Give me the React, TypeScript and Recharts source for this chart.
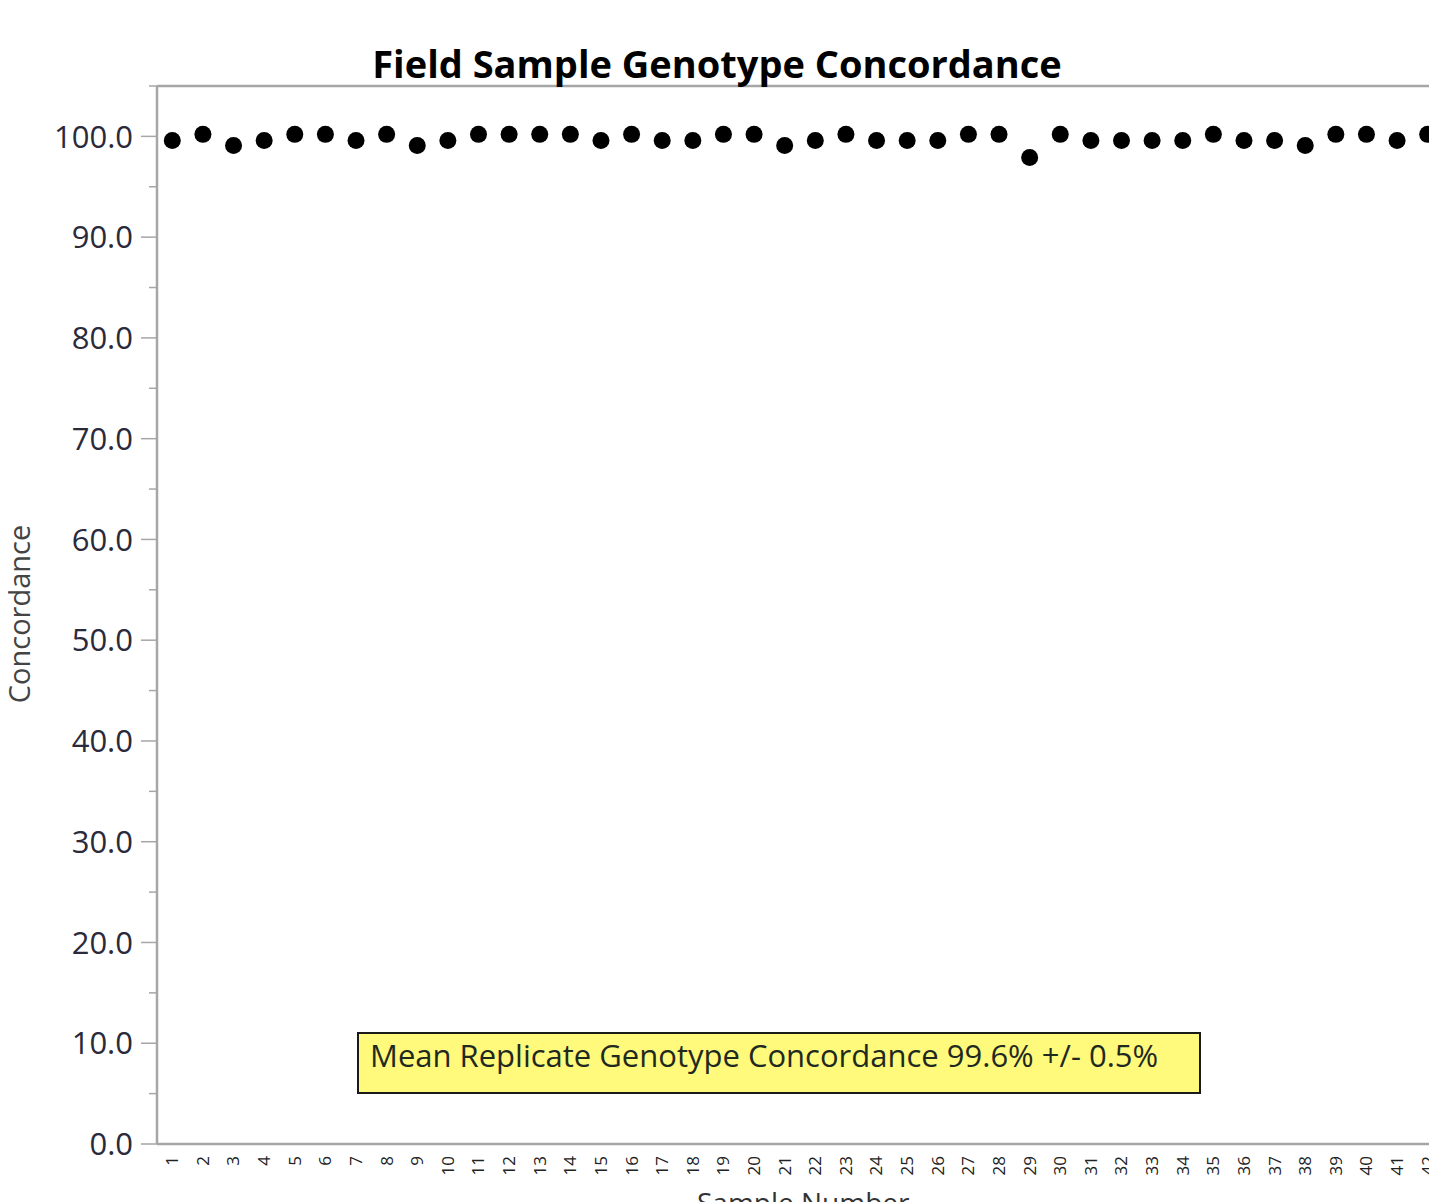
import React from "react";
import { ComposedChart, Scatter, XAxis, YAxis, ReferenceLine } from "recharts";

const sampleLabels = [
  "1", "2", "3", "4", "5", "6", "7", "8", "9", "10",
  "11", "12", "13", "14", "15", "16", "17", "18", "19", "20",
  "21", "22", "23", "24", "25", "26", "27", "28", "29", "30",
  "31", "32", "33", "34", "35", "36", "37", "38", "39", "40",
  "41", "42",
];

const concordance = [
  99.6, 100.2, 99.1, 99.6, 100.2, 100.2, 99.6, 100.2, 99.1, 99.6,
  100.2, 100.2, 100.2, 100.2, 99.6, 100.2, 99.6, 99.6, 100.2, 100.2,
  99.1, 99.6, 100.2, 99.6, 99.6, 99.6, 100.2, 100.2, 97.9, 100.2,
  99.6, 99.6, 99.6, 99.6, 100.2, 99.6, 99.6, 99.1, 100.2, 100.2,
  99.6, 100.2,
];

const yTicks = [0, 5, 10, 15, 20, 25, 30, 35, 40, 45, 50, 55, 60, 65, 70, 75, 80, 85, 90, 95, 100, 105];

const titleText = "Field Sample Genotype Concordance";
const yTitle = "Concordance";
const xTitle = "Sample Number";
const noteText = "Mean Replicate Genotype Concordance 99.6% +/- 0.5%";

const data = sampleLabels.map((s, i) => ({ sample: s, value: concordance[i] }));

const FONT = "'Open Sans', 'Noto Sans', 'DejaVu Sans', sans-serif";
const AXIS_X = 149;
const AXIS_COLOR = "#a6a6a6";
const HALF_BAND = 15.3;

const YTick = (props: any) => {
  const { y, payload } = props;
  const v = payload.value as number;
  const major = v % 10 === 0 && v <= 100;
  const len = major ? 16 : 8;
  return (
    <g>
      <line x1={AXIS_X - len} x2={AXIS_X} y1={y} y2={y} stroke={AXIS_COLOR} strokeWidth={1.5} />
      {major && (
        <text
          x={AXIS_X - 24}
          y={y}
          dy="0.36em"
          textAnchor="end"
          fontFamily={FONT}
          fontSize={31}
          fill="#2a2a3a"
        >
          {v.toFixed(1)}
        </text>
      )}
    </g>
  );
};

const XTick = (props: any) => {
  const { x, y, payload } = props;
  return (
    <text
      x={x}
      y={y}
      dy="0.35em"
      textAnchor="end"
      transform={`rotate(-90 ${x} ${y})`}
      fontFamily={FONT}
      fontSize={17}
      fill="#222"
    >
      {payload.value}
    </text>
  );
};

const Dot = (props: any) => {
  const { cx, cy } = props;
  if (cx == null || cy == null) return null;
  return <circle cx={cx} cy={cy} r={8.5} fill="#000" />;
};

export default function App() {
  return (
    <div style={{ position: "relative", width: 1429, height: 1194, overflow: "hidden", background: "#fff" }}>
      <ComposedChart
        width={1436}
        height={1220}
        data={data}
        margin={{ top: 78, right: 1, left: 0, bottom: 24 }}
      >
        <XAxis
          dataKey="sample"
          type="category"
          scale="point"
          padding={{ left: HALF_BAND, right: HALF_BAND }}
          interval={0}
          tickLine={false}
          axisLine={{ stroke: AXIS_COLOR, strokeWidth: 2.5 }}
          tick={<XTick />}
          tickMargin={6}
          height={60}
        />
        <YAxis
          type="number"
          domain={[0, 105]}
          ticks={yTicks}
          interval={0}
          width={AXIS_X}
          tickLine={false}
          axisLine={{ stroke: AXIS_COLOR, strokeWidth: 2.5 }}
          tick={<YTick />}
          allowDataOverflow
        />
        <ReferenceLine y={105} stroke={AXIS_COLOR} strokeWidth={2.5} />
        <Scatter dataKey="value" shape={<Dot />} isAnimationActive={false} />
      </ComposedChart>
      <svg
        width={1429}
        height={1194}
        style={{ position: "absolute", left: 0, top: 0, pointerEvents: "none" }}
      >
        <text x={709} y={70} textAnchor="middle" fontFamily={FONT} fontWeight="bold" fontSize={38} fill="#000">
          {titleText}
        </text>
        <text
          x={12}
          y={606}
          dy="0.35em"
          textAnchor="middle"
          transform="rotate(-90 12 606)"
          fontFamily={FONT}
          fontSize={29}
          fill="#444"
        >
          {yTitle}
        </text>
        <text x={689} y={1205} fontFamily={FONT} fontSize={28} fill="#333">
          {xTitle}
        </text>
        <rect x={350} y={1025} width={842} height={60} fill="#fff97c" stroke="#1a1a1a" strokeWidth={2} />
        <text x={362} y={1059} fontFamily={FONT} fontSize={31} fill="#1f2a1f">
          {noteText}
        </text>
      </svg>
    </div>
  );
}
